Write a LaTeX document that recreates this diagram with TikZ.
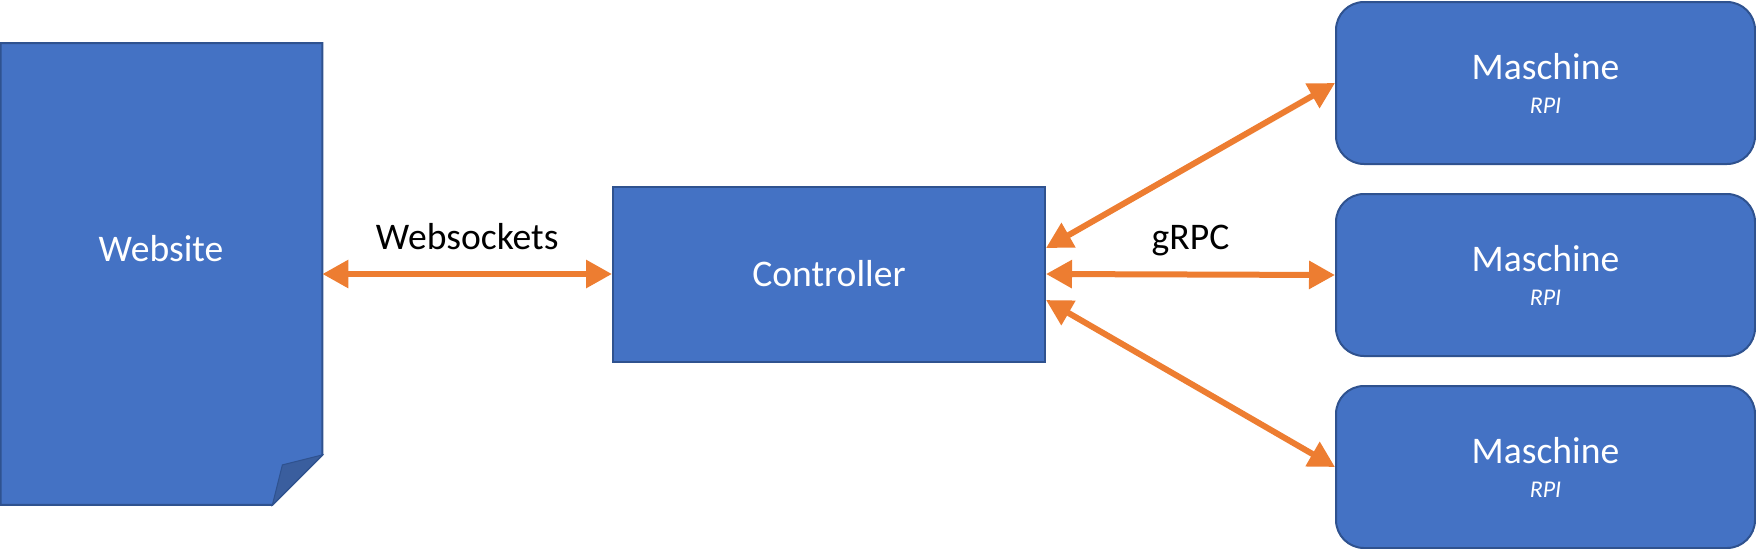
\documentclass[tikz,border=0pt]{standalone}
\usepackage{fontspec}
\setmainfont{Carlito}
\usetikzlibrary{
	positioning,  %相对定位
	arrows.meta,  %箭头
	calc          %坐标计算
}
\definecolor{boxblue}{HTML}{4472C4}
\definecolor{boxline}{HTML}{2F528F}
\definecolor{foldblue}{HTML}{3A5E9E}
\definecolor{linkorange}{HTML}{ED7D31}
\tikzset{
	every picture/.style={
		x=0.5pt,y=-0.5pt
}}
\tikzset{
	bigfont/.style={font=\fontsize{18.8}{22}\selectfont},
	box/.style={bigfont,fill=boxblue,draw=boxline,line width=1pt,inner sep=0pt,text=white},
	machine/.style={box,rounded corners=14pt,minimum width=209.5pt,minimum height=81pt,align=center},
	link/.style={draw=linkorange,line width=3pt,
		{Triangle[length=13pt,width=13.5pt]}-{Triangle[length=13pt,width=13.5pt]}},
	lbl/.style={bigfont,midway,above=11pt,inner sep=0pt,text depth=0pt}
}
\newcommand{\machinetext}{Maschine\\[-5pt]{\fontsize{12}{13}\selectfont\itshape RPI}}

\begin{document}
\begin{tikzpicture}
\useasboundingbox (0,0) rectangle (1756,548);
\def\fold{50}%折角大小

%网页(带折角的文档)
\node[minimum width=160.5pt,minimum height=230.5pt,inner sep=0pt] (website) at (161.5,274) {};
\filldraw[fill=boxblue,draw=boxline,line width=1pt]
	(website.north west) -- (website.north east)
	-- ($(website.south east)+(0,-\fold)$)
	-- ($(website.south east)+(-\fold,0)$)
	-- (website.south west) -- cycle;
\filldraw[fill=foldblue,draw=boxline,line width=0.5pt]
	($(website.south east)+(0,-\fold)$)
	-- ($(website.south east)+(-40,-40)$)
	-- ($(website.south east)+(-\fold,0)$) -- cycle;
\node[bigfont,text=white] (webtitle) at (161,249) {Website};

%控制器
\node[box,minimum width=216pt,minimum height=87.5pt] (controller) at (829,274) {Controller};

%三台机器
\node[machine] (m1) at (1545.5,83) {\machinetext};
\node[machine,below=14pt of m1] (m2) {\machinetext};
\node[machine,below=14pt of m2] (m3) {\machinetext};

%连线
\draw[link] (website.east) -- (controller.west) node[lbl] {Websockets};
\draw[link] (controller.east) -- (m2.west) node[lbl] {gRPC};
\draw[link] ($(controller.east)+(0,-26)$) -- (m1.west);
\draw[link] ($(controller.east)+(0,26)$) -- (m3.west);

\end{tikzpicture}
\end{document}
